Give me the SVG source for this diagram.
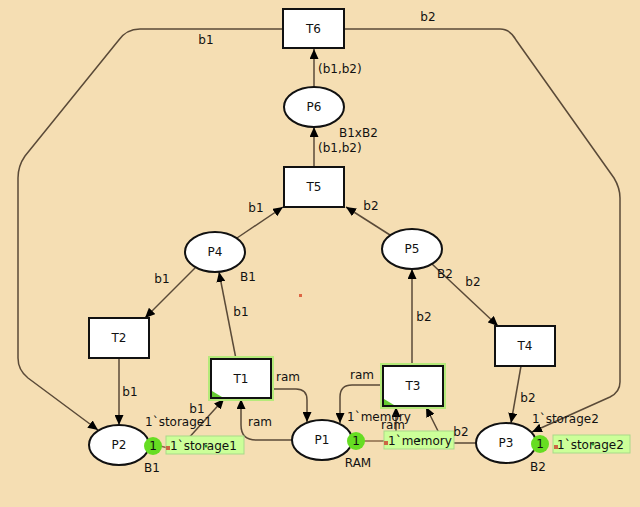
<svg xmlns="http://www.w3.org/2000/svg" width="640" height="507" viewBox="0 0 640 507">
<style>
text{font-family:"DejaVu Sans","Liberation Sans",sans-serif;font-size:12px;fill:#111}
.mid{text-anchor:middle}
.node{fill:#fff;stroke:#111;stroke-width:2}
.arc{fill:none;stroke:#5a4a38;stroke-width:1.5}
.glow{fill:none;stroke:#b5ea7a;stroke-width:6}
.tok{fill:#66dd22}
.mark{fill:#ccff99;stroke:#a9d98a;stroke-width:1}
.conn{stroke:#8a6a4a;stroke-width:1.5}
.anch{fill:#cc6644}
.dot{fill:#2f8f2f}
.corner{fill:#66cc33}
</style>
<defs>
<marker id="ah" markerUnits="userSpaceOnUse" markerWidth="10" markerHeight="9" refX="10" refY="4.5" orient="auto">
<path d="M0,0 L10,4.5 L0,9 z" fill="#000"/>
</marker>
</defs>
<rect x="0" y="0" width="640" height="507" fill="#f5deb3"/>
<rect x="299" y="294" width="3" height="3" fill="#dd6644"/>

<g id="connectors">
<path class="arc" marker-end="url(#ah)" d="M283,29 L140,29 Q126,29 118,41 L25,156 Q18,166 18,178 L18,358 Q18,370 28,378 L98,430"/>
<path class="arc" marker-end="url(#ah)" d="M344,29 L500,29 Q510,29 516,40 L614,178 Q620,188 620,198 L620,382 Q620,392 610,397 L532,432"/>
<path class="arc" marker-end="url(#ah)" d="M314,87 L314,49"/>
<path class="arc" marker-end="url(#ah)" d="M314,167 L314,127"/>
<path class="arc" marker-end="url(#ah)" d="M237,238 L283,207"/>
<path class="arc" marker-end="url(#ah)" d="M390,235 L346,207"/>
<path class="arc" marker-end="url(#ah)" d="M196,267 L145,318"/>
<path class="arc" marker-end="url(#ah)" d="M236,359 L219,272"/>
<path class="arc" marker-end="url(#ah)" d="M412,366 L412,269"/>
<path class="arc" marker-end="url(#ah)" d="M432,264 L498,326"/>
<path class="arc" marker-end="url(#ah)" d="M119,358 L119,425"/>
<path class="arc" marker-end="url(#ah)" d="M521,366 L511,423"/>
<path class="arc" marker-end="url(#ah)" d="M186,441 L224,399"/>
<path class="arc" marker-end="url(#ah)" d="M271,389 L296,389 Q307,389 307,400 L307,422"/>
<path class="arc" marker-end="url(#ah)" d="M292,440 L256,440 Q241,440 241,425 L241,399"/>
<path class="arc" marker-end="url(#ah)" d="M383,385 L352,385 Q340,385 340,397 L340,423"/>
<path class="arc" marker-end="url(#ah)" d="M396,437 L396,407"/>
<path class="arc" marker-end="url(#ah)" d="M476,443 L444,443 L426,407"/>
</g>

<g id="T6"><rect class="node" x="283" y="9" width="61" height="39"/><text class="mid" x="313.5" y="33">T6</text></g>
<g id="P6"><ellipse class="node" cx="314" cy="107" rx="30" ry="20"/><text class="mid" x="314" y="111">P6</text></g>
<g id="T5"><rect class="node" x="284" y="167" width="60" height="40"/><text class="mid" x="314" y="191">T5</text></g>
<g id="P4"><ellipse class="node" cx="215" cy="252" rx="30" ry="20"/><text class="mid" x="215" y="256">P4</text></g>
<g id="P5"><ellipse class="node" cx="412" cy="249" rx="30" ry="20"/><text class="mid" x="412" y="253">P5</text></g>
<g id="T2"><rect class="node" x="89" y="318" width="60" height="40"/><text class="mid" x="119" y="342">T2</text></g>
<g id="T1"><rect class="glow" x="211" y="359" width="60" height="39"/><rect class="node" x="211" y="359" width="60" height="39"/><polygon class="corner" points="212,391 212,397 222,397"/><text class="mid" x="241" y="383">T1</text></g>
<g id="T3"><rect class="glow" x="383" y="366" width="60" height="40"/><rect class="node" x="383" y="366" width="60" height="40"/><polygon class="corner" points="384,399 384,405 394,405"/><text class="mid" x="413" y="390">T3</text></g>
<g id="T4"><rect class="node" x="495" y="326" width="60" height="40"/><text class="mid" x="525" y="350">T4</text></g>

<g id="P2"><ellipse class="node" cx="119" cy="445" rx="30" ry="20"/><text class="mid" x="119" y="449">P2</text>
<line class="conn" x1="160" y1="446" x2="168" y2="448"/>
<rect class="mark" x="166" y="436" width="78" height="18"/><rect class="anch" x="166" y="446" width="4" height="4"/><circle class="dot" cx="206" cy="446" r="1.5"/>
<text x="170" y="450">1`storage1</text>
<circle class="tok" cx="153" cy="446" r="9"/><text class="mid" x="153" y="450">1</text></g>
<g id="P1"><ellipse class="node" cx="322" cy="440" rx="30" ry="20"/><text class="mid" x="322" y="444">P1</text>
<line class="conn" x1="363" y1="441" x2="386" y2="441"/>
<rect class="mark" x="384" y="431" width="70" height="18"/><rect class="anch" x="384" y="441" width="4" height="4"/><circle class="dot" cx="419" cy="440" r="1.5"/>
<text x="388" y="445">1`memory</text>
<circle class="tok" cx="356" cy="441" r="9"/><text class="mid" x="356" y="445">1</text></g>
<g id="P3"><ellipse class="node" cx="506" cy="443" rx="30" ry="20"/><text class="mid" x="506" y="447">P3</text>
<rect class="mark" x="553" y="435" width="77" height="18"/><rect class="anch" x="554" y="445" width="4" height="4"/><circle class="dot" cx="593" cy="444" r="1.5"/>
<text x="557" y="449">1`storage2</text>
<circle class="tok" cx="540" cy="444" r="9"/><text class="mid" x="540" y="448">1</text></g>

<g id="labels">
<text class="mid" x="206" y="44">b1</text>
<text class="mid" x="428" y="21">b2</text>
<text x="318" y="73">(b1,b2)</text>
<text x="339" y="137">B1xB2</text>
<text x="318" y="152">(b1,b2)</text>
<text class="mid" x="256" y="212">b1</text>
<text class="mid" x="371" y="210">b2</text>
<text class="mid" x="248" y="281">B1</text>
<text class="mid" x="162" y="283">b1</text>
<text class="mid" x="241" y="316">b1</text>
<text class="mid" x="445" y="278">B2</text>
<text class="mid" x="473" y="286">b2</text>
<text class="mid" x="424" y="321">b2</text>
<text class="mid" x="130" y="396">b1</text>
<text class="mid" x="197" y="413">b1</text>
<text x="145" y="426">1`storage1</text>
<text class="mid" x="152" y="472">B1</text>
<text class="mid" x="260" y="426">ram</text>
<text class="mid" x="288" y="381">ram</text>
<text class="mid" x="362" y="379">ram</text>
<text x="347" y="421">1`memory</text>
<text class="mid" x="393" y="429">ram</text>
<text class="mid" x="358" y="467">RAM</text>
<text class="mid" x="461" y="436">b2</text>
<text class="mid" x="528" y="402">b2</text>
<text x="532" y="423">1`storage2</text>
<text class="mid" x="538" y="471">B2</text>
</g>
</svg>
